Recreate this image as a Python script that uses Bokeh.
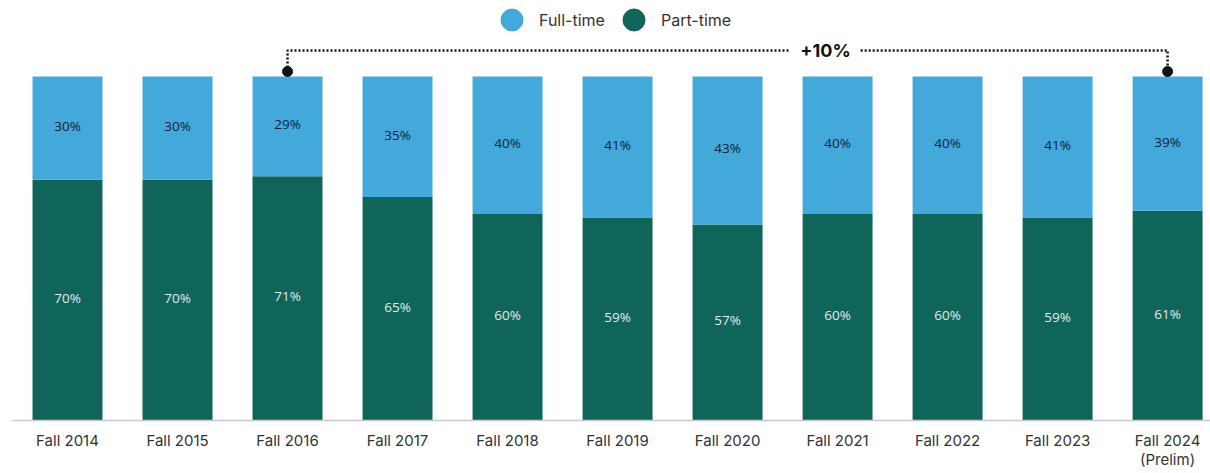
from bokeh.plotting import figure
from bokeh.models import Range1d, FixedTicker, Legend, LegendItem, ColumnDataSource
from bokeh.embed import file_html
from bokeh.resources import INLINE
from bokeh.core.properties import value

categories = ["Fall 2014", "Fall 2015", "Fall 2016", "Fall 2017", "Fall 2018", "Fall 2019",
              "Fall 2020", "Fall 2021", "Fall 2022", "Fall 2023", "Fall 2024\n(Prelim)"]
full_time = [30, 30, 29, 35, 40, 41, 43, 40, 40, 41, 39]
part_time = [70, 70, 71, 65, 60, 59, 57, 60, 60, 59, 61]
bracket_from = 2
bracket_to = 10

FT_COLOR = "#42a9da"
PT_COLOR = "#10655a"
TEXT = "#333333"
NAN = float("nan")

x = list(range(len(categories)))
source = ColumnDataSource(dict(
    x=x, part=part_time, full=full_time,
    pt_lab=[f"{v}%" for v in part_time],
    ft_lab=[f"{v}%" for v in full_time],
    pt_mid=[v / 2 for v in part_time],
    ft_mid=[p + f / 2 for p, f in zip(part_time, full_time)],
))

p = figure(width=1210, height=473, x_range=Range1d(-0.5, 10.39), y_range=Range1d(0, 122.09),
           output_backend="svg", toolbar_location=None, y_axis_location=None,
           min_border_left=12, min_border_right=0, min_border_top=0, min_border_bottom=53)
p.outline_line_color = None
p.xgrid.visible = False
p.ygrid.visible = False

p.vbar_stack(["part", "full"], x="x", width=0.636, color=[PT_COLOR, FT_COLOR],
             line_color=None, source=source)

for col, ycol, tc in (("pt_lab", "pt_mid", "#e2ecea"), ("ft_lab", "ft_mid", "#14213a")):
    p.text(x="x", y=ycol, text=col, source=source, text_align="center", text_baseline="middle",
           y_offset=-2, text_font=value("Open Sans"), text_font_size="13.5px", text_color=tc)

# bracket annotation
top_a = part_time[bracket_from] + full_time[bracket_from]
top_b = part_time[bracket_to] + full_time[bracket_to]
dot_off = 1.45
line_y = 107.56
gap_l, gap_r, txt_x = 6.57, 7.21, 6.89
p.line([x[bracket_from], x[bracket_from], gap_l], [top_a + dot_off, line_y, line_y],
       line_dash="2 2", line_width=2.5, line_color="#111111")
p.line([gap_r, x[bracket_to], x[bracket_to]], [line_y, line_y, top_b + dot_off],
       line_dash="2 2", line_width=2.5, line_color="#111111")
p.scatter([x[bracket_from], x[bracket_to]], [top_a + dot_off, top_b + dot_off],
          size=10, color="#111111")
diff = full_time[bracket_to] - full_time[bracket_from]
p.text(x=[txt_x], y=[line_y], text=[f"+{diff}%"], text_align="center", text_baseline="middle",
       text_font=value("Inter"), text_font_size="18px", text_font_style="bold", text_color="#111111")

# legend
r_ft = p.scatter([NAN], [NAN], marker="circle", size=22, color=FT_COLOR)
r_pt = p.scatter([NAN], [NAN], marker="circle", size=22, color=PT_COLOR)
legend = Legend(items=[LegendItem(label="Full-time", renderers=[r_ft]),
                       LegendItem(label="Part-time", renderers=[r_pt])],
                orientation="horizontal", location=(472, 373),
                glyph_width=55, glyph_height=55, label_standoff=-9, spacing=1,
                padding=0, margin=0, border_line_color=None, background_fill_alpha=0,
                label_text_font="Inter", label_text_font_size="16px", label_text_color=TEXT)
p.add_layout(legend)

ax = p.xaxis[0]
ax.ticker = FixedTicker(ticks=x)
ax.major_label_overrides = {i: c for i, c in enumerate(categories)}
ax.axis_line_color = "#c8c8c8"
ax.axis_line_width = 1.5
ax.major_tick_line_color = None
ax.major_tick_out = 0
ax.major_tick_in = 0
ax.minor_tick_line_color = None
ax.major_label_standoff = 10
ax.major_label_text_font = "Inter"
ax.major_label_text_font_size = "15px"
ax.major_label_text_line_height = 1.0
ax.major_label_text_color = TEXT

open("out.html", "w").write(file_html(p, INLINE))
